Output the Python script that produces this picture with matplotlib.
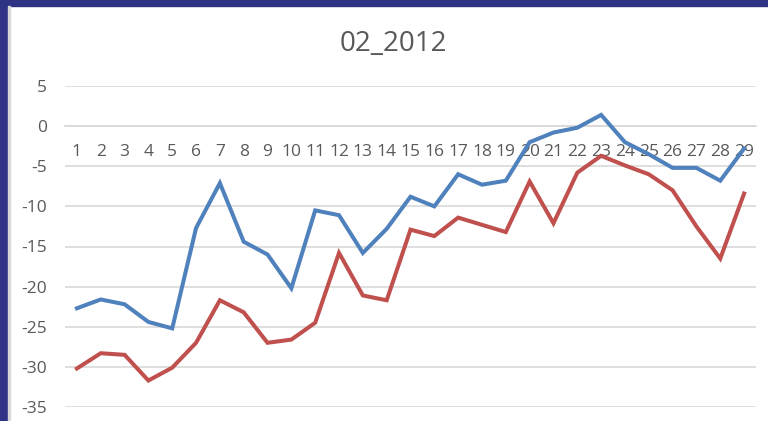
import matplotlib.pyplot as plt
from matplotlib.patches import Rectangle

plt.rcParams['font.family'] = ['Open Sans', 'DejaVu Sans']

days = list(range(1, 30))
series_blue = [-22.7, -21.6, -22.2, -24.4, -25.2, -12.7, -7.1, -14.4, -16.0, -20.2,
               -10.5, -11.1, -15.8, -12.8, -8.8, -10.0, -6.0, -7.3, -6.8, -2.0,
               -0.8, -0.2, 1.4, -2.0, -3.5, -5.2, -5.2, -6.8, -2.8]
series_red = [-30.2, -28.3, -28.5, -31.7, -30.1, -27.0, -21.7, -23.2, -27.0, -26.6,
              -24.5, -15.8, -21.1, -21.7, -12.9, -13.7, -11.4, -12.3, -13.2, -6.9,
              -12.1, -5.8, -3.7, -4.9, -6.0, -8.0, -12.5, -16.5, -8.4]
yticks = [5, 0, -5, -10, -15, -20, -25, -30, -35]

W, H = 768, 421
fig = plt.figure(figsize=(W / 100, H / 100), dpi=100)
fig.patch.set_facecolor('white')

# navy frame on top and left
fig.patches.append(Rectangle((0, 1 - 6 / H), 1, 6 / H, transform=fig.transFigure,
                             color='#2F3385', zorder=0))
fig.patches.append(Rectangle((0, 0), 8 / W, 1, transform=fig.transFigure,
                             color='#2F3385', zorder=0))
fig.patches.append(Rectangle((8 / W, 0), 2 / W, 1 - 6 / H, transform=fig.transFigure,
                             color='#D9D9D9', zorder=0))

ax = fig.add_axes([65 / W, 14 / H, (756 - 65) / W, (407 - 86) / H])
ax.set_facecolor('none')

ax.plot(days, series_blue, color='#4F81BD', lw=2.9, solid_joinstyle='miter', zorder=3)
ax.plot(days, series_red, color='#C0504D', lw=2.9, solid_joinstyle='miter', zorder=3)

ax.set_xlim(0.5, 29.5)
ax.set_ylim(-35, 5)
ax.set_yticks(yticks)
ax.set_yticklabels([str(v) for v in yticks])
ax.set_xticks(days)
ax.set_xticklabels([str(d) for d in days])

ax.grid(axis='y', color='#D9D9D9', lw=1.2)
ax.set_axisbelow(True)
for s in ['top', 'right', 'left']:
    ax.spines[s].set_visible(False)
ax.spines['bottom'].set_position(('data', 0))
ax.spines['bottom'].set_color('#D9D9D9')
ax.spines['bottom'].set_linewidth(1.2)

ax.tick_params(axis='x', length=0, pad=13, labelsize=12.5, labelcolor='#595959')
ax.tick_params(axis='y', length=0, pad=13, labelsize=12.5, labelcolor='#595959')

fig.text(393 / W, 1 - 44 / H, '02_2012', ha='center', va='center',
         fontsize=20, color='#595959')

fig.savefig('out.png', dpi=100)
